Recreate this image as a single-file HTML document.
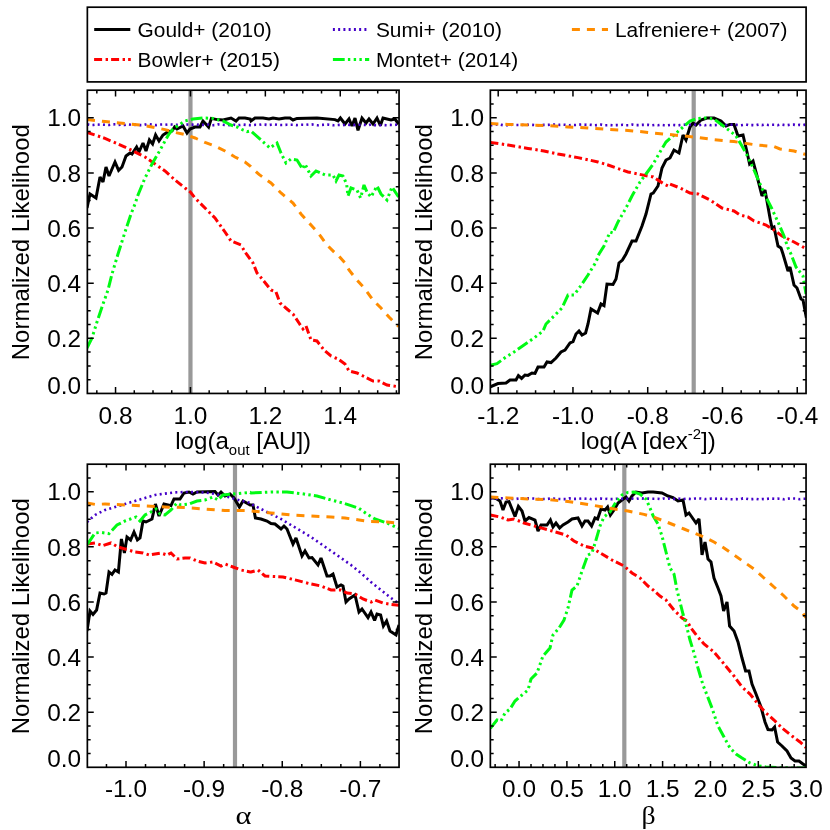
<!DOCTYPE html>
<html><head><meta charset="utf-8"><title>Normalized Likelihood</title>
<style>
html,body{margin:0;padding:0;background:#fff;}
body{width:830px;height:830px;overflow:hidden;font-family:"Liberation Sans",sans-serif;}
svg{display:block;will-change:transform;}
</style></head><body>
<svg width="830" height="830" viewBox="0 0 830 830">
<rect width="830" height="830" fill="#fff"/>
<defs>
<clipPath id="c0"><rect x="87.35" y="90.20" width="311.70" height="303.25"/></clipPath>
<clipPath id="c1"><rect x="490.35" y="90.20" width="315.70" height="303.25"/></clipPath>
<clipPath id="c2"><rect x="87.35" y="464.20" width="311.70" height="303.10"/></clipPath>
<clipPath id="c3"><rect x="490.35" y="464.20" width="315.70" height="303.10"/></clipPath>
</defs>
<rect x="188.35" y="90.20" width="4.2" height="303.25" fill="#999"/>
<g clip-path="url(#c0)">
<path d="M87.0 208.0 L90.0 194.0 L96.0 198.0 L100.0 177.0 L103.0 182.0 L106.0 167.0 L109.0 176.0 L115.0 162.0 L118.6 170.4 L122.0 167.0 L126.0 156.0 L130.0 153.0 L132.0 154.0 L136.6 147.0 L139.0 152.0 L143.0 143.0 L146.0 151.0 L149.4 140.0 L152.6 144.0 L155.6 135.0 L159.0 141.0 L163.0 135.0 L167.0 132.4 L172.0 131.0 L174.6 127.0 L177.0 129.0 L183.0 126.0 L187.0 133.0 L190.0 129.0 L195.0 127.0 L200.0 127.0 L203.0 121.0 L208.6 127.0 L211.4 118.4 L217.0 119.6 L223.0 120.0 L231.0 118.0 L236.0 121.0 L239.0 118.0 L245.0 118.0 L250.2 119.0 L251.0 121.0 L255.0 118.0 L263.0 118.0 L269.0 119.0 L273.0 118.0 L279.0 119.0 L285.0 118.0 L290.0 118.0 L293.0 120.0 L297.0 118.4 L317.0 118.0 L335.0 119.6 L338.0 121.0 L340.4 118.0 L345.0 124.0 L349.0 119.0 L352.0 126.0 L355.0 118.0 L358.0 130.4 L362.0 118.0 L366.0 123.0 L369.0 119.0 L373.0 124.0 L377.0 118.0 L380.4 125.6 L383.0 118.0 L391.0 120.0 L395.0 119.0 L398.6 124.0" fill="none" stroke="#000" stroke-width="3.00" stroke-linejoin="miter" stroke-miterlimit="2.6"/>
<path d="M87.0 132.4 L105.0 138.4 L125.0 147.0 L145.0 157.0 L155.0 164.0 L165.0 171.0 L175.0 180.0 L185.0 188.0 L190.4 192.0 L195.0 198.0 L205.0 208.0 L215.0 218.0 L225.0 232.0 L231.0 241.0 L241.0 245.0 L245.0 252.0 L253.0 263.0 L257.0 273.0 L263.0 280.0 L271.0 290.0 L276.0 292.0 L280.0 303.0 L287.0 309.0 L293.0 314.0 L299.0 323.0 L303.0 329.0 L306.0 326.0 L311.0 340.0 L317.0 341.0 L324.0 350.0 L331.0 356.0 L338.0 359.0 L345.0 364.0 L349.0 371.0 L357.0 373.0 L365.0 377.0 L373.0 381.0 L379.0 381.0 L387.0 385.0 L398.6 386.8" fill="none" stroke="#ff0000" stroke-width="3.00" stroke-linejoin="miter" stroke-miterlimit="2.6" stroke-dasharray="8 3.5 2.4 3.1"/>
<path d="M87.3 124.4 L90.5 125.0 L93.6 124.9 L96.7 124.5 L99.8 124.7 L102.9 124.7 L106.1 124.8 L109.2 125.0 L112.3 124.4 L115.4 124.3 L118.5 125.0 L121.6 124.7 L124.8 125.0 L127.9 124.3 L131.0 124.7 L134.1 124.9 L137.2 124.5 L140.3 125.1 L143.5 125.1 L146.6 124.3 L149.7 124.3 L152.8 124.8 L155.9 125.1 L159.0 124.6 L162.2 124.5 L165.3 124.7 L168.4 124.3 L171.5 124.5 L174.6 124.7 L177.7 124.8 L180.9 124.5 L184.0 124.5 L187.1 124.5 L190.2 124.7 L193.3 124.6 L196.4 124.3 L199.6 125.1 L202.7 124.8 L205.8 124.9 L208.9 124.5 L212.0 125.2 L215.1 125.1 L218.3 124.4 L221.4 124.6 L224.5 125.0 L227.6 125.0 L230.7 125.2 L233.8 124.7 L237.0 125.1 L240.1 125.0 L243.2 124.6 L246.3 124.9 L249.4 125.1 L252.6 125.1 L255.7 124.8 L258.8 124.9 L261.9 124.4 L265.0 124.6 L268.1 125.1 L271.3 124.7 L274.4 124.5 L277.5 124.9 L280.6 125.0 L283.7 125.0 L286.8 124.7 L290.0 124.8 L293.1 124.8 L296.2 125.1 L299.3 124.9 L302.4 124.7 L305.5 124.8 L308.7 124.4 L311.8 124.4 L314.9 125.0 L318.0 125.3 L321.1 124.9 L324.2 124.8 L327.4 124.6 L330.5 124.9 L333.6 125.3 L336.7 125.1 L339.8 124.9 L342.9 125.2 L346.1 124.6 L349.2 124.9 L352.3 125.3 L355.4 124.9 L358.5 124.8 L361.6 124.7 L364.8 124.9 L367.9 125.3 L371.0 124.4 L374.1 125.1 L377.2 125.2 L380.3 125.2 L383.5 125.1 L386.6 125.2 L389.7 124.9 L392.8 125.0 L395.9 124.8 L399.1 124.5" fill="none" stroke="#4400c8" stroke-width="2.60" stroke-linejoin="miter" stroke-miterlimit="2.6" stroke-dasharray="2 3.25"/>
<path d="M87.0 348.0 L92.0 338.0 L97.0 322.0 L102.0 307.0 L108.0 290.0 L112.0 274.0 L118.0 254.0 L125.0 232.0 L131.0 214.0 L135.0 204.0 L138.0 195.0 L145.0 178.0 L152.0 164.0 L159.0 152.0 L165.0 141.0 L169.0 134.0 L173.0 129.0 L179.0 125.0 L185.0 121.0 L193.0 119.0 L203.0 118.0 L213.0 118.4 L223.0 121.0 L231.0 125.0 L237.0 127.0 L243.0 130.0 L247.0 131.6 L250.2 131.0 L251.0 131.0 L261.0 140.0 L270.0 148.0 L277.0 143.0 L281.0 153.0 L286.0 163.0 L291.0 159.0 L297.0 160.0 L302.6 169.0 L305.0 164.0 L311.0 176.0 L316.0 171.0 L325.0 175.0 L333.0 175.0 L336.0 181.0 L339.0 175.0 L343.0 176.0 L346.6 184.0 L348.0 196.0 L351.0 188.0 L357.0 190.0 L360.6 198.0 L364.0 185.0 L367.0 192.0 L371.0 197.0 L377.0 186.0 L381.0 194.0 L387.0 200.0 L392.0 187.0 L398.6 197.0" fill="none" stroke="#00fa14" stroke-width="3.00" stroke-linejoin="miter" stroke-miterlimit="2.6" stroke-dasharray="11.8 3.2 2.4 3.4 2.4 3.3 2.4 3.2"/>
<path d="M87.0 119.6 L105.0 121.6 L125.0 123.6 L145.0 125.6 L165.0 129.6 L175.0 132.4 L185.0 134.6 L195.0 138.0 L205.0 142.4 L215.0 146.0 L225.0 151.0 L235.0 157.0 L245.0 162.0 L250.2 166.0 L251.0 167.0 L259.0 174.4 L271.0 183.0 L281.0 193.0 L293.0 203.0 L301.0 214.0 L311.0 225.0 L319.0 234.0 L327.0 245.0 L336.0 254.0 L337.0 254.0 L345.0 263.0 L349.0 270.0 L357.0 280.0 L365.0 289.0 L373.0 300.0 L381.0 308.0 L389.0 317.0 L395.0 323.0 L398.6 326.4" fill="none" stroke="#ff8c00" stroke-width="3.00" stroke-linejoin="miter" stroke-miterlimit="2.6" stroke-dasharray="8 7"/>
</g>
<path d="M96.82 393.45v-3.30M96.82 90.20v3.30M115.55 393.45v-6.40M115.55 90.20v6.40M134.28 393.45v-3.30M134.28 90.20v3.30M153.00 393.45v-3.30M153.00 90.20v3.30M171.73 393.45v-3.30M171.73 90.20v3.30M190.45 393.45v-6.40M190.45 90.20v6.40M209.18 393.45v-3.30M209.18 90.20v3.30M227.90 393.45v-3.30M227.90 90.20v3.30M246.63 393.45v-3.30M246.63 90.20v3.30M265.35 393.45v-6.40M265.35 90.20v6.40M284.07 393.45v-3.30M284.07 90.20v3.30M302.80 393.45v-3.30M302.80 90.20v3.30M321.53 393.45v-3.30M321.53 90.20v3.30M340.25 393.45v-6.40M340.25 90.20v6.40M358.98 393.45v-3.30M358.98 90.20v3.30M377.70 393.45v-3.30M377.70 90.20v3.30M396.43 393.45v-3.30M396.43 90.20v3.30M87.35 379.67h3.30M399.05 379.67h-3.30M87.35 365.88h3.30M399.05 365.88h-3.30M87.35 352.10h3.30M399.05 352.10h-3.30M87.35 338.31h6.40M399.05 338.31h-6.40M87.35 324.53h3.30M399.05 324.53h-3.30M87.35 310.75h3.30M399.05 310.75h-3.30M87.35 296.96h3.30M399.05 296.96h-3.30M87.35 283.18h6.40M399.05 283.18h-6.40M87.35 269.39h3.30M399.05 269.39h-3.30M87.35 255.61h3.30M399.05 255.61h-3.30M87.35 241.82h3.30M399.05 241.82h-3.30M87.35 228.04h6.40M399.05 228.04h-6.40M87.35 214.26h3.30M399.05 214.26h-3.30M87.35 200.47h3.30M399.05 200.47h-3.30M87.35 186.69h3.30M399.05 186.69h-3.30M87.35 172.90h6.40M399.05 172.90h-6.40M87.35 159.12h3.30M399.05 159.12h-3.30M87.35 145.34h3.30M399.05 145.34h-3.30M87.35 131.55h3.30M399.05 131.55h-3.30M87.35 117.77h6.40M399.05 117.77h-6.40M87.35 103.98h3.30M399.05 103.98h-3.30" stroke="#000" stroke-width="1.50" fill="none"/>
<rect x="87.35" y="90.20" width="311.70" height="303.25" fill="none" stroke="#000" stroke-width="1.70"/>
<g font-family="'Liberation Sans', sans-serif" font-size="24.4" fill="#000">
<text x="81.05" y="393.55" text-anchor="end">0.0</text>
<text x="81.05" y="347.01" text-anchor="end">0.2</text>
<text x="81.05" y="291.88" text-anchor="end">0.4</text>
<text x="81.05" y="236.74" text-anchor="end">0.6</text>
<text x="81.05" y="181.60" text-anchor="end">0.8</text>
<text x="81.05" y="126.47" text-anchor="end">1.0</text>
<text x="115.55" y="423.55" text-anchor="middle">0.8</text>
<text x="190.45" y="423.55" text-anchor="middle">1.0</text>
<text x="265.35" y="423.55" text-anchor="middle">1.2</text>
<text x="340.25" y="423.55" text-anchor="middle">1.4</text>
</g>
<text transform="translate(29.25 242.22) rotate(-90)" text-anchor="middle" font-family="'Liberation Sans', sans-serif" font-size="24.0" fill="#000">Normalized Likelihood</text>
<rect x="691.60" y="90.20" width="4.2" height="303.25" fill="#999"/>
<g clip-path="url(#c1)">
<path d="M490.4 386.8 L498.0 383.6 L506.0 383.0 L510.0 380.0 L516.0 380.0 L518.4 375.6 L521.6 378.4 L525.0 375.0 L528.0 375.4 L532.0 373.0 L535.0 373.4 L538.0 367.0 L544.0 367.0 L547.0 362.0 L551.0 362.6 L556.0 358.0 L561.0 352.0 L565.0 350.0 L570.0 343.0 L573.0 341.6 L576.0 334.0 L579.0 331.0 L582.0 335.0 L585.6 333.0 L588.0 324.0 L591.0 309.0 L597.6 313.0 L601.0 304.0 L604.0 305.6 L607.0 284.0 L613.0 284.4 L616.0 279.0 L619.0 263.0 L622.4 260.0 L626.0 254.0 L632.0 241.0 L636.0 241.0 L642.0 226.0 L646.0 214.0 L651.0 194.0 L653.2 193.0 L658.0 186.0 L662.0 168.0 L666.0 160.0 L670.0 158.0 L674.0 150.0 L679.0 153.0 L683.0 135.0 L686.0 140.0 L690.0 127.0 L693.0 123.0 L696.0 125.0 L701.0 120.0 L707.0 118.0 L714.0 118.0 L721.0 121.0 L726.0 126.0 L730.0 124.4 L734.0 124.4 L738.0 136.0 L743.0 135.0 L747.0 152.0 L749.6 164.0 L753.0 161.0 L757.0 176.0 L762.0 196.0 L765.0 190.0 L770.0 218.0 L772.0 228.0 L774.0 227.0 L778.0 246.0 L781.0 248.0 L783.0 254.0 L788.0 271.0 L790.0 267.0 L794.0 285.0 L797.0 288.0 L801.0 299.0 L803.0 300.0 L806.4 318.0" fill="none" stroke="#000" stroke-width="3.00" stroke-linejoin="miter" stroke-miterlimit="2.6"/>
<path d="M490.4 142.4 L508.0 145.0 L528.0 148.4 L544.0 151.0 L558.0 154.0 L578.0 157.6 L598.0 162.0 L608.0 165.0 L618.0 168.6 L628.0 172.0 L638.0 174.0 L648.0 176.0 L653.2 177.0 L664.0 184.0 L668.0 186.0 L670.0 184.0 L680.0 188.0 L690.0 193.0 L698.0 194.0 L710.0 200.0 L722.0 208.0 L734.0 211.0 L740.0 215.0 L748.0 217.0 L754.0 221.0 L766.0 225.0 L774.0 230.0 L782.0 236.0 L794.0 242.0 L806.0 248.6" fill="none" stroke="#ff0000" stroke-width="3.00" stroke-linejoin="miter" stroke-miterlimit="2.6" stroke-dasharray="8 3.5 2.4 3.1"/>
<path d="M490.4 125.3 L493.5 125.3 L496.7 124.5 L499.8 124.5 L503.0 125.2 L506.1 125.1 L509.3 125.1 L512.4 124.7 L515.6 125.0 L518.8 125.0 L521.9 125.0 L525.1 124.6 L528.2 124.8 L531.4 124.8 L534.5 125.1 L537.7 125.3 L540.9 125.3 L544.0 124.9 L547.2 124.9 L550.3 124.7 L553.5 124.5 L556.6 124.5 L559.8 124.9 L563.0 124.7 L566.1 124.8 L569.3 125.3 L572.4 124.9 L575.6 125.0 L578.7 124.7 L581.9 124.5 L585.1 124.7 L588.2 124.6 L591.4 124.9 L594.5 125.3 L597.7 125.1 L600.8 124.6 L604.0 125.3 L607.2 125.2 L610.3 125.1 L613.5 125.3 L616.6 125.1 L619.8 125.2 L622.9 124.8 L626.1 125.3 L629.3 125.3 L632.4 124.6 L635.6 125.1 L638.7 125.1 L641.9 124.9 L645.0 124.9 L648.2 124.9 L651.4 125.3 L654.5 124.9 L657.7 125.2 L660.8 124.8 L664.0 125.2 L667.1 125.3 L670.3 124.9 L673.5 125.0 L676.6 125.3 L679.8 125.1 L682.9 124.9 L686.1 124.6 L689.2 124.7 L692.4 125.1 L695.6 124.6 L698.7 125.3 L701.9 124.7 L705.0 125.3 L708.2 124.7 L711.3 125.3 L714.5 125.1 L717.7 124.9 L720.8 124.9 L724.0 125.0 L727.1 125.0 L730.3 124.7 L733.4 124.6 L736.6 124.9 L739.8 125.3 L742.9 125.0 L746.1 124.5 L749.2 125.2 L752.4 125.1 L755.5 125.3 L758.7 124.6 L761.9 125.1 L765.0 124.5 L768.2 125.0 L771.3 124.7 L774.5 124.7 L777.6 125.2 L780.8 124.5 L784.0 124.9 L787.1 125.2 L790.3 124.7 L793.4 124.6 L796.6 125.2 L799.7 124.8 L802.9 125.1 L806.0 124.5" fill="none" stroke="#4400c8" stroke-width="2.60" stroke-linejoin="miter" stroke-miterlimit="2.6" stroke-dasharray="2 3.25"/>
<path d="M490.4 365.2 L497.0 363.6 L506.0 357.0 L514.0 352.0 L524.0 345.0 L534.0 338.0 L543.0 331.0 L546.0 324.0 L554.0 316.0 L562.0 308.0 L568.0 295.0 L574.0 295.0 L580.0 287.0 L588.0 275.0 L596.0 262.0 L599.0 254.0 L604.0 246.0 L610.0 232.0 L613.0 233.0 L618.0 222.0 L626.0 208.0 L632.0 196.0 L640.0 182.0 L646.0 174.0 L653.2 164.0 L660.0 152.0 L666.0 142.0 L674.0 135.0 L682.0 128.0 L690.0 121.0 L698.0 118.4 L706.0 118.0 L714.0 119.0 L722.0 125.0 L730.0 131.0 L736.0 136.0 L742.0 146.0 L748.0 157.0 L754.0 170.0 L760.0 184.0 L766.0 197.0 L772.0 209.0 L778.0 222.0 L784.0 236.0 L788.0 248.0 L791.0 254.0 L796.0 267.0 L803.0 276.0 L806.0 294.0" fill="none" stroke="#00fa14" stroke-width="3.00" stroke-linejoin="miter" stroke-miterlimit="2.6" stroke-dasharray="11.8 3.2 2.4 3.4 2.4 3.3 2.4 3.2"/>
<path d="M490.4 123.6 L508.0 124.4 L528.0 125.0 L548.0 125.6 L568.0 127.0 L588.0 128.0 L608.0 129.4 L628.0 130.4 L648.0 132.4 L653.2 133.0 L674.0 135.0 L694.0 137.0 L714.0 139.6 L734.0 141.6 L754.0 144.6 L774.0 146.6 L780.0 149.0 L794.0 151.0 L806.0 154.6" fill="none" stroke="#ff8c00" stroke-width="3.00" stroke-linejoin="miter" stroke-miterlimit="2.6" stroke-dasharray="8 7"/>
</g>
<path d="M498.20 393.45v-6.40M498.20 90.20v6.40M516.89 393.45v-3.30M516.89 90.20v3.30M535.58 393.45v-3.30M535.58 90.20v3.30M554.27 393.45v-3.30M554.27 90.20v3.30M572.96 393.45v-6.40M572.96 90.20v6.40M591.65 393.45v-3.30M591.65 90.20v3.30M610.34 393.45v-3.30M610.34 90.20v3.30M629.03 393.45v-3.30M629.03 90.20v3.30M647.72 393.45v-6.40M647.72 90.20v6.40M666.41 393.45v-3.30M666.41 90.20v3.30M685.10 393.45v-3.30M685.10 90.20v3.30M703.79 393.45v-3.30M703.79 90.20v3.30M722.48 393.45v-6.40M722.48 90.20v6.40M741.17 393.45v-3.30M741.17 90.20v3.30M759.86 393.45v-3.30M759.86 90.20v3.30M778.55 393.45v-3.30M778.55 90.20v3.30M797.24 393.45v-6.40M797.24 90.20v6.40M490.35 379.67h3.30M806.05 379.67h-3.30M490.35 365.88h3.30M806.05 365.88h-3.30M490.35 352.10h3.30M806.05 352.10h-3.30M490.35 338.31h6.40M806.05 338.31h-6.40M490.35 324.53h3.30M806.05 324.53h-3.30M490.35 310.75h3.30M806.05 310.75h-3.30M490.35 296.96h3.30M806.05 296.96h-3.30M490.35 283.18h6.40M806.05 283.18h-6.40M490.35 269.39h3.30M806.05 269.39h-3.30M490.35 255.61h3.30M806.05 255.61h-3.30M490.35 241.82h3.30M806.05 241.82h-3.30M490.35 228.04h6.40M806.05 228.04h-6.40M490.35 214.26h3.30M806.05 214.26h-3.30M490.35 200.47h3.30M806.05 200.47h-3.30M490.35 186.69h3.30M806.05 186.69h-3.30M490.35 172.90h6.40M806.05 172.90h-6.40M490.35 159.12h3.30M806.05 159.12h-3.30M490.35 145.34h3.30M806.05 145.34h-3.30M490.35 131.55h3.30M806.05 131.55h-3.30M490.35 117.77h6.40M806.05 117.77h-6.40M490.35 103.98h3.30M806.05 103.98h-3.30" stroke="#000" stroke-width="1.50" fill="none"/>
<rect x="490.35" y="90.20" width="315.70" height="303.25" fill="none" stroke="#000" stroke-width="1.70"/>
<g font-family="'Liberation Sans', sans-serif" font-size="24.4" fill="#000">
<text x="484.05" y="393.55" text-anchor="end">0.0</text>
<text x="484.05" y="347.01" text-anchor="end">0.2</text>
<text x="484.05" y="291.88" text-anchor="end">0.4</text>
<text x="484.05" y="236.74" text-anchor="end">0.6</text>
<text x="484.05" y="181.60" text-anchor="end">0.8</text>
<text x="484.05" y="126.47" text-anchor="end">1.0</text>
<text x="498.20" y="423.55" text-anchor="middle">-1.2</text>
<text x="572.96" y="423.55" text-anchor="middle">-1.0</text>
<text x="647.72" y="423.55" text-anchor="middle">-0.8</text>
<text x="722.48" y="423.55" text-anchor="middle">-0.6</text>
<text x="797.24" y="423.55" text-anchor="middle">-0.4</text>
</g>
<text transform="translate(432.25 242.22) rotate(-90)" text-anchor="middle" font-family="'Liberation Sans', sans-serif" font-size="24.0" fill="#000">Normalized Likelihood</text>
<rect x="232.89" y="464.20" width="4.2" height="303.10" fill="#999"/>
<g clip-path="url(#c2)">
<path d="M87.0 631.0 L90.0 611.0 L93.0 614.4 L96.6 610.0 L100.0 593.0 L104.0 594.0 L106.0 593.0 L109.0 572.0 L112.0 574.4 L115.0 570.0 L118.4 572.0 L121.4 539.0 L124.4 553.0 L127.0 537.0 L130.6 540.0 L134.0 532.0 L137.4 540.0 L140.0 538.0 L143.0 521.0 L146.0 522.0 L152.0 519.0 L155.4 504.0 L159.0 516.0 L164.0 504.0 L171.0 505.6 L174.0 499.0 L180.0 499.0 L184.0 493.0 L189.0 492.0 L193.0 494.0 L197.0 492.0 L215.0 491.6 L218.0 495.0 L221.0 492.0 L225.0 496.0 L230.0 494.0 L234.0 498.0 L239.4 507.0 L243.0 501.0 L250.2 505.0 L251.0 505.0 L253.0 505.0 L255.4 518.0 L261.0 519.0 L267.0 521.0 L271.0 523.6 L275.0 524.0 L281.0 529.0 L284.0 526.0 L287.0 529.0 L293.0 544.0 L296.0 538.0 L302.0 556.0 L305.0 551.0 L309.0 558.0 L312.0 557.6 L318.0 565.0 L321.0 558.0 L327.0 576.0 L330.0 576.0 L333.0 574.0 L337.0 587.0 L341.0 585.0 L343.0 586.0 L346.0 602.0 L349.0 599.0 L355.0 595.0 L359.0 612.0 L362.0 609.0 L368.0 617.6 L371.0 612.0 L374.6 620.4 L377.0 614.0 L380.6 615.0 L383.4 626.0 L386.6 621.0 L390.0 631.0 L396.0 635.0 L399.0 625.0" fill="none" stroke="#000" stroke-width="3.00" stroke-linejoin="miter" stroke-miterlimit="2.6"/>
<path d="M87.0 544.0 L95.0 543.0 L103.0 545.6 L111.0 543.0 L118.0 547.0 L125.0 549.0 L135.0 552.0 L143.0 553.0 L149.0 555.0 L161.0 553.0 L167.0 555.0 L171.0 553.0 L177.0 559.0 L185.0 558.0 L190.0 558.0 L197.0 561.0 L205.0 563.0 L213.0 562.0 L221.0 566.0 L225.0 564.0 L233.0 567.0 L241.0 570.0 L250.2 572.0 L251.0 572.0 L258.0 570.0 L265.0 576.0 L271.0 576.4 L283.0 577.0 L297.0 580.4 L311.0 584.0 L321.0 586.0 L331.0 590.0 L341.0 590.0 L347.0 593.0 L355.0 594.0 L363.0 599.0 L371.0 602.0 L375.0 600.0 L383.0 603.0 L391.0 604.4 L399.0 605.2" fill="none" stroke="#ff0000" stroke-width="3.00" stroke-linejoin="miter" stroke-miterlimit="2.6" stroke-dasharray="8 3.5 2.4 3.1"/>
<path d="M87.0 522.0 L95.0 515.0 L105.0 510.0 L115.0 507.0 L125.0 504.0 L135.0 501.0 L145.0 498.0 L155.0 495.0 L165.0 493.6 L175.0 492.4 L185.0 492.0 L205.0 492.4 L215.0 494.0 L225.0 496.0 L235.0 499.0 L250.2 503.0 L251.0 504.0 L261.0 509.0 L271.0 514.0 L281.0 519.0 L291.0 525.0 L301.0 531.0 L311.0 537.0 L321.0 544.0 L331.0 551.0 L341.0 558.0 L351.0 565.0 L361.0 573.0 L371.0 582.0 L381.0 590.0 L391.0 598.0 L399.0 603.6" fill="none" stroke="#4400c8" stroke-width="2.60" stroke-linejoin="miter" stroke-miterlimit="2.6" stroke-dasharray="2 3.25"/>
<path d="M87.4 544.4 L95.0 533.0 L101.0 532.4 L109.0 533.6 L117.0 525.0 L125.0 521.0 L136.0 517.0 L140.0 521.0 L145.0 515.0 L153.0 511.0 L156.0 509.0 L160.0 514.0 L165.0 515.0 L171.0 510.0 L177.0 503.0 L181.0 505.0 L189.0 504.0 L197.0 501.0 L205.0 500.0 L213.0 497.0 L218.0 500.0 L223.0 495.0 L233.0 494.0 L243.0 493.0 L250.2 492.4 L251.0 493.0 L271.0 492.0 L287.0 492.0 L301.0 493.6 L317.0 496.0 L331.0 500.0 L339.0 502.0 L343.0 503.0 L351.0 505.6 L359.0 508.4 L367.0 514.0 L375.0 519.0 L387.0 523.0 L399.0 528.4" fill="none" stroke="#00fa14" stroke-width="3.00" stroke-linejoin="miter" stroke-miterlimit="2.6" stroke-dasharray="11.8 3.2 2.4 3.4 2.4 3.3 2.4 3.2"/>
<path d="M87.0 503.0 L95.0 504.4 L105.0 504.0 L125.0 505.0 L145.0 506.0 L165.0 507.0 L185.0 507.6 L205.0 509.0 L225.0 510.6 L245.0 510.6 L250.2 511.0 L251.0 511.0 L271.0 513.0 L291.0 515.0 L311.0 516.0 L331.0 517.0 L345.0 518.0 L359.0 520.0 L371.0 521.6 L387.0 522.0 L399.0 523.2" fill="none" stroke="#ff8c00" stroke-width="3.00" stroke-linejoin="miter" stroke-miterlimit="2.6" stroke-dasharray="8 7"/>
</g>
<path d="M106.47 767.30v-3.30M106.47 464.20v3.30M126.00 767.30v-6.40M126.00 464.20v6.40M145.53 767.30v-3.30M145.53 464.20v3.30M165.07 767.30v-3.30M165.07 464.20v3.30M184.60 767.30v-3.30M184.60 464.20v3.30M204.13 767.30v-6.40M204.13 464.20v6.40M223.66 767.30v-3.30M223.66 464.20v3.30M243.19 767.30v-3.30M243.19 464.20v3.30M262.73 767.30v-3.30M262.73 464.20v3.30M282.26 767.30v-6.40M282.26 464.20v6.40M301.79 767.30v-3.30M301.79 464.20v3.30M321.32 767.30v-3.30M321.32 464.20v3.30M340.86 767.30v-3.30M340.86 464.20v3.30M360.39 767.30v-6.40M360.39 464.20v6.40M379.92 767.30v-3.30M379.92 464.20v3.30M87.35 753.52h3.30M399.05 753.52h-3.30M87.35 739.75h3.30M399.05 739.75h-3.30M87.35 725.97h3.30M399.05 725.97h-3.30M87.35 712.19h6.40M399.05 712.19h-6.40M87.35 698.41h3.30M399.05 698.41h-3.30M87.35 684.64h3.30M399.05 684.64h-3.30M87.35 670.86h3.30M399.05 670.86h-3.30M87.35 657.08h6.40M399.05 657.08h-6.40M87.35 643.30h3.30M399.05 643.30h-3.30M87.35 629.53h3.30M399.05 629.53h-3.30M87.35 615.75h3.30M399.05 615.75h-3.30M87.35 601.97h6.40M399.05 601.97h-6.40M87.35 588.20h3.30M399.05 588.20h-3.30M87.35 574.42h3.30M399.05 574.42h-3.30M87.35 560.64h3.30M399.05 560.64h-3.30M87.35 546.86h6.40M399.05 546.86h-6.40M87.35 533.09h3.30M399.05 533.09h-3.30M87.35 519.31h3.30M399.05 519.31h-3.30M87.35 505.53h3.30M399.05 505.53h-3.30M87.35 491.75h6.40M399.05 491.75h-6.40M87.35 477.98h3.30M399.05 477.98h-3.30" stroke="#000" stroke-width="1.50" fill="none"/>
<rect x="87.35" y="464.20" width="311.70" height="303.10" fill="none" stroke="#000" stroke-width="1.70"/>
<g font-family="'Liberation Sans', sans-serif" font-size="24.4" fill="#000">
<text x="81.05" y="767.40" text-anchor="end">0.0</text>
<text x="81.05" y="720.89" text-anchor="end">0.2</text>
<text x="81.05" y="665.78" text-anchor="end">0.4</text>
<text x="81.05" y="610.67" text-anchor="end">0.6</text>
<text x="81.05" y="555.56" text-anchor="end">0.8</text>
<text x="81.05" y="500.45" text-anchor="end">1.0</text>
<text x="126.00" y="797.40" text-anchor="middle">-1.0</text>
<text x="204.13" y="797.40" text-anchor="middle">-0.9</text>
<text x="282.26" y="797.40" text-anchor="middle">-0.8</text>
<text x="360.39" y="797.40" text-anchor="middle">-0.7</text>
</g>
<text transform="translate(29.25 616.15) rotate(-90)" text-anchor="middle" font-family="'Liberation Sans', sans-serif" font-size="24.0" fill="#000">Normalized Likelihood</text>
<rect x="622.22" y="464.20" width="4.2" height="303.10" fill="#999"/>
<g clip-path="url(#c3)">
<path d="M490.4 497.6 L496.0 498.4 L500.0 501.0 L503.0 510.0 L506.0 502.0 L509.0 501.6 L515.0 516.4 L518.4 506.4 L522.0 511.0 L525.0 521.0 L529.0 517.6 L535.0 520.0 L538.0 531.0 L541.0 525.0 L547.0 525.0 L550.4 520.0 L553.0 527.0 L556.0 523.0 L559.6 528.0 L563.0 525.0 L568.0 522.0 L572.0 519.0 L578.0 518.0 L582.0 526.0 L585.0 521.0 L588.0 521.0 L591.6 526.0 L595.0 518.0 L597.6 519.0 L601.0 509.0 L605.0 510.0 L607.6 507.0 L610.4 515.0 L614.0 510.0 L618.0 503.0 L622.0 500.0 L626.0 497.0 L629.0 501.0 L632.0 496.0 L636.0 492.0 L642.0 493.0 L648.0 492.0 L653.2 492.0 L662.0 493.0 L668.0 496.0 L673.0 497.6 L678.0 501.0 L683.0 500.0 L686.0 515.0 L689.0 513.0 L696.0 523.0 L699.0 519.0 L700.4 534.0 L702.0 555.0 L705.0 542.0 L708.0 559.0 L711.0 562.0 L714.0 578.0 L718.0 588.0 L721.0 596.0 L723.6 611.0 L727.0 602.0 L729.6 626.0 L734.0 631.0 L738.0 642.0 L742.0 658.0 L745.6 671.0 L749.0 671.0 L752.0 684.0 L756.0 694.0 L761.0 707.0 L765.0 722.0 L768.0 729.6 L772.0 730.0 L774.6 727.0 L777.6 742.0 L782.0 746.0 L787.0 751.0 L791.0 758.0 L795.0 761.0 L799.0 761.0 L803.0 764.0 L806.0 766.0" fill="none" stroke="#000" stroke-width="3.00" stroke-linejoin="miter" stroke-miterlimit="2.6"/>
<path d="M490.4 515.0 L500.0 517.0 L508.0 520.0 L514.0 519.0 L524.0 523.0 L538.0 527.0 L552.0 531.0 L566.0 535.0 L574.0 541.0 L584.0 546.0 L592.0 548.0 L602.0 554.0 L612.0 560.0 L624.0 566.0 L632.0 573.0 L640.0 578.0 L648.0 586.0 L653.2 590.0 L660.0 596.0 L666.0 600.0 L674.0 610.0 L682.0 618.0 L687.0 621.0 L691.0 628.0 L697.0 636.0 L704.0 644.0 L714.0 652.0 L724.0 664.0 L734.0 676.0 L742.0 687.0 L750.0 694.0 L758.0 704.0 L766.0 713.0 L774.0 720.0 L782.0 728.0 L792.0 736.0 L800.0 742.0 L806.0 747.6" fill="none" stroke="#ff0000" stroke-width="3.00" stroke-linejoin="miter" stroke-miterlimit="2.6" stroke-dasharray="8 3.5 2.4 3.1"/>
<path d="M490.4 498.5 L493.5 498.3 L496.7 498.6 L499.8 498.4 L503.0 498.3 L506.1 498.6 L509.3 499.1 L512.4 499.0 L515.6 499.0 L518.8 498.5 L521.9 498.8 L525.1 498.5 L528.2 498.4 L531.4 498.4 L534.5 498.5 L537.7 499.1 L540.9 499.0 L544.0 499.0 L547.2 499.0 L550.3 498.5 L553.5 498.6 L556.6 498.9 L559.8 499.0 L563.0 499.1 L566.1 499.1 L569.3 498.4 L572.4 498.8 L575.6 498.9 L578.7 498.8 L581.9 498.5 L585.1 498.7 L588.2 498.4 L591.4 499.2 L594.5 499.1 L597.7 498.8 L600.8 498.6 L604.0 499.1 L607.2 498.8 L610.3 499.1 L613.5 499.1 L616.6 498.8 L619.8 498.7 L622.9 498.9 L626.1 498.7 L629.3 498.5 L632.4 498.6 L635.6 499.1 L638.7 498.4 L641.9 498.4 L645.0 498.9 L648.2 498.6 L651.4 498.8 L654.5 498.8 L657.7 498.7 L660.8 499.3 L664.0 498.5 L667.1 498.7 L670.3 498.5 L673.5 498.9 L676.6 498.6 L679.8 498.7 L682.9 499.0 L686.1 498.7 L689.2 498.9 L692.4 499.2 L695.6 498.5 L698.7 498.4 L701.9 498.6 L705.0 499.1 L708.2 498.9 L711.3 498.6 L714.5 498.7 L717.7 498.6 L720.8 498.8 L724.0 498.4 L727.1 499.0 L730.3 499.2 L733.4 499.3 L736.6 499.1 L739.8 499.3 L742.9 498.4 L746.1 498.7 L749.2 499.3 L752.4 499.1 L755.5 498.8 L758.7 499.3 L761.9 499.0 L765.0 499.2 L768.2 498.7 L771.3 498.6 L774.5 498.8 L777.6 498.6 L780.8 498.8 L784.0 499.3 L787.1 498.7 L790.3 498.4 L793.4 498.5 L796.6 498.6 L799.7 499.2 L802.9 498.8 L806.0 498.7" fill="none" stroke="#4400c8" stroke-width="2.60" stroke-linejoin="miter" stroke-miterlimit="2.6" stroke-dasharray="2 3.25"/>
<path d="M490.4 728.4 L497.0 720.0 L501.0 721.0 L505.0 713.0 L510.0 709.0 L515.0 701.0 L522.0 695.0 L528.0 690.0 L531.0 679.0 L537.0 673.0 L543.0 656.0 L550.0 648.0 L553.0 635.0 L559.0 628.0 L564.0 620.0 L568.0 608.0 L572.0 590.0 L577.0 586.0 L581.0 574.0 L586.0 560.0 L588.0 555.0 L592.0 553.0 L596.0 540.0 L600.0 526.0 L604.0 517.0 L610.0 512.0 L616.0 502.0 L622.0 495.0 L628.0 492.4 L634.0 492.0 L640.0 494.0 L646.0 499.0 L650.0 508.0 L653.2 516.0 L658.0 524.0 L662.0 536.0 L666.0 552.0 L670.0 568.0 L674.0 574.0 L677.0 590.0 L680.0 602.0 L683.0 614.0 L687.0 628.0 L690.0 640.0 L694.0 653.0 L698.0 668.0 L703.0 685.0 L707.0 695.0 L712.0 708.0 L718.0 726.0 L724.0 737.0 L730.0 748.0 L736.0 754.0 L742.0 758.0 L750.0 763.0 L758.0 765.8 L766.0 767.0 L782.0 767.8 L806.0 768.0" fill="none" stroke="#00fa14" stroke-width="3.00" stroke-linejoin="miter" stroke-miterlimit="2.6" stroke-dasharray="11.8 3.2 2.4 3.4 2.4 3.3 2.4 3.2"/>
<path d="M490.4 497.0 L508.0 498.0 L528.0 499.0 L548.0 499.6 L568.0 501.6 L588.0 504.4 L608.0 508.0 L628.0 511.0 L644.0 514.4 L653.2 517.0 L664.0 521.0 L674.0 525.0 L684.0 529.0 L694.0 533.0 L704.0 537.0 L714.0 542.0 L724.0 548.0 L734.0 555.0 L744.0 562.0 L754.0 569.0 L764.0 578.0 L774.0 587.0 L784.0 596.0 L794.0 606.0 L802.0 612.0 L806.0 617.6" fill="none" stroke="#ff8c00" stroke-width="3.00" stroke-linejoin="miter" stroke-miterlimit="2.6" stroke-dasharray="8 7"/>
</g>
<path d="M495.12 767.30v-3.30M495.12 464.20v3.30M507.09 767.30v-3.30M507.09 464.20v3.30M519.05 767.30v-6.40M519.05 464.20v6.40M531.01 767.30v-3.30M531.01 464.20v3.30M542.97 767.30v-3.30M542.97 464.20v3.30M554.94 767.30v-3.30M554.94 464.20v3.30M566.90 767.30v-6.40M566.90 464.20v6.40M578.86 767.30v-3.30M578.86 464.20v3.30M590.82 767.30v-3.30M590.82 464.20v3.30M602.79 767.30v-3.30M602.79 464.20v3.30M614.75 767.30v-6.40M614.75 464.20v6.40M626.71 767.30v-3.30M626.71 464.20v3.30M638.67 767.30v-3.30M638.67 464.20v3.30M650.64 767.30v-3.30M650.64 464.20v3.30M662.60 767.30v-6.40M662.60 464.20v6.40M674.56 767.30v-3.30M674.56 464.20v3.30M686.52 767.30v-3.30M686.52 464.20v3.30M698.49 767.30v-3.30M698.49 464.20v3.30M710.45 767.30v-6.40M710.45 464.20v6.40M722.41 767.30v-3.30M722.41 464.20v3.30M734.38 767.30v-3.30M734.38 464.20v3.30M746.34 767.30v-3.30M746.34 464.20v3.30M758.30 767.30v-6.40M758.30 464.20v6.40M770.26 767.30v-3.30M770.26 464.20v3.30M782.22 767.30v-3.30M782.22 464.20v3.30M794.19 767.30v-3.30M794.19 464.20v3.30M490.35 753.52h3.30M806.05 753.52h-3.30M490.35 739.75h3.30M806.05 739.75h-3.30M490.35 725.97h3.30M806.05 725.97h-3.30M490.35 712.19h6.40M806.05 712.19h-6.40M490.35 698.41h3.30M806.05 698.41h-3.30M490.35 684.64h3.30M806.05 684.64h-3.30M490.35 670.86h3.30M806.05 670.86h-3.30M490.35 657.08h6.40M806.05 657.08h-6.40M490.35 643.30h3.30M806.05 643.30h-3.30M490.35 629.53h3.30M806.05 629.53h-3.30M490.35 615.75h3.30M806.05 615.75h-3.30M490.35 601.97h6.40M806.05 601.97h-6.40M490.35 588.20h3.30M806.05 588.20h-3.30M490.35 574.42h3.30M806.05 574.42h-3.30M490.35 560.64h3.30M806.05 560.64h-3.30M490.35 546.86h6.40M806.05 546.86h-6.40M490.35 533.09h3.30M806.05 533.09h-3.30M490.35 519.31h3.30M806.05 519.31h-3.30M490.35 505.53h3.30M806.05 505.53h-3.30M490.35 491.75h6.40M806.05 491.75h-6.40M490.35 477.98h3.30M806.05 477.98h-3.30" stroke="#000" stroke-width="1.50" fill="none"/>
<rect x="490.35" y="464.20" width="315.70" height="303.10" fill="none" stroke="#000" stroke-width="1.70"/>
<g font-family="'Liberation Sans', sans-serif" font-size="24.4" fill="#000">
<text x="484.05" y="767.40" text-anchor="end">0.0</text>
<text x="484.05" y="720.89" text-anchor="end">0.2</text>
<text x="484.05" y="665.78" text-anchor="end">0.4</text>
<text x="484.05" y="610.67" text-anchor="end">0.6</text>
<text x="484.05" y="555.56" text-anchor="end">0.8</text>
<text x="484.05" y="500.45" text-anchor="end">1.0</text>
<text x="519.05" y="797.40" text-anchor="middle">0.0</text>
<text x="566.90" y="797.40" text-anchor="middle">0.5</text>
<text x="614.75" y="797.40" text-anchor="middle">1.0</text>
<text x="662.60" y="797.40" text-anchor="middle">1.5</text>
<text x="710.45" y="797.40" text-anchor="middle">2.0</text>
<text x="758.30" y="797.40" text-anchor="middle">2.5</text>
<text x="805.85" y="797.40" text-anchor="middle">3.0</text>
</g>
<text transform="translate(432.25 616.15) rotate(-90)" text-anchor="middle" font-family="'Liberation Sans', sans-serif" font-size="24.0" fill="#000">Normalized Likelihood</text>
<g font-family="'Liberation Sans', sans-serif" font-size="24.1" fill="#000">
<text x="243.2" y="448.9" text-anchor="middle">log(a<tspan font-size="14.9" dy="6.4">out</tspan><tspan dy="-6.4"> [AU])</tspan></text>
<text x="648.2" y="448.9" text-anchor="middle">log(A [dex<tspan font-size="14.9" dy="-10">-2</tspan><tspan dy="10">])</tspan></text>
</g>
<g font-family="'Liberation Serif', serif" font-size="28.5" fill="#000">
<text transform="translate(243.5 824) scale(1.17 1)" font-size="26" text-anchor="middle">α</text>
<text transform="translate(648.6 824) scale(1.12 1)" font-size="24.8" text-anchor="middle">β</text>
</g>
<rect x="87.35" y="7.20" width="718.75" height="74.70" fill="#fff" stroke="#000" stroke-width="1.70"/>
<path d="M94.2 29.5H130.3" stroke="#000" stroke-width="3.0"/>
<path d="M94.1 59.5H130.8" stroke="#ff0000" stroke-width="3.1" stroke-dasharray="8 3.5 2.4 3.1"/>
<path d="M332.9 29.5H366.8" stroke="#4400c8" stroke-width="3.1" stroke-dasharray="2 3.25"/>
<path d="M332.9 59.5H369.2" stroke="#00fa14" stroke-width="3.1" stroke-dasharray="11.8 3.2 2.4 3.4 2.4 3.3 2.4 3.2"/>
<path d="M571.9 29.5H608" stroke="#ff8c00" stroke-width="3.1" stroke-dasharray="8 7"/>
<g font-family="'Liberation Sans', sans-serif" font-size="20.9" fill="#000">
<text x="137.6" y="37">Gould+ (2010)</text>
<text x="137.6" y="67">Bowler+ (2015)</text>
<text x="375.9" y="37">Sumi+ (2010)</text>
<text x="375.9" y="67">Montet+ (2014)</text>
<text x="614.9" y="37">Lafreniere+ (2007)</text>
</g>
</svg>
</body></html>
